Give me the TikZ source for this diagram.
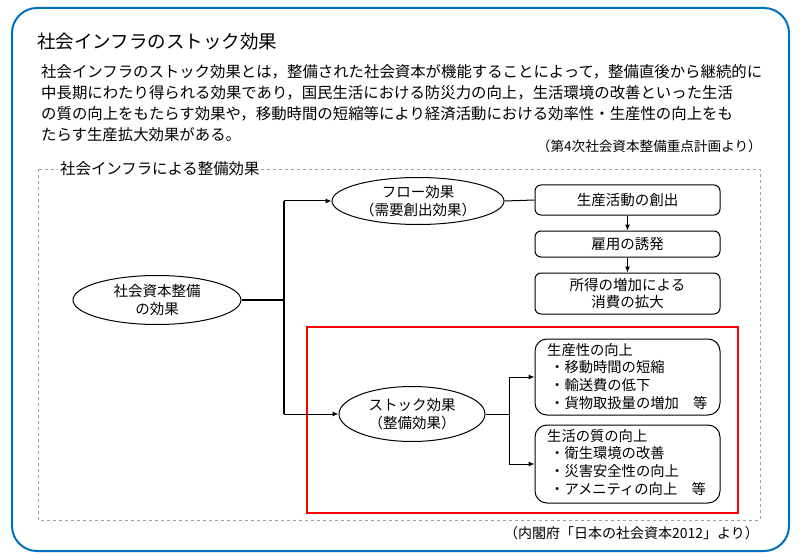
\documentclass[tikz,border=0pt]{standalone}
\usepackage{fontspec}
\setmainfont{Noto Sans CJK JP}
\usetikzlibrary{shapes.geometric,arrows.meta}
\definecolor{frameblue}{RGB}{0,112,192}
\definecolor{dashgray}{RGB}{160,160,160}
\begin{document}
\begin{tikzpicture}[x=1pt,y=-1pt,
  ell/.style={draw,ellipse,line width=1pt,inner sep=0pt,align=center,font=\fontsize{14.5}{18.5}\selectfont},
  rbox/.style={draw,rounded corners=6pt,line width=1pt,inner sep=0pt,align=center,font=\fontsize{14.5}{17}\selectfont},
  conn/.style={line width=1.3pt},
  arr/.style={line width=1pt,-{Latex[length=6pt,width=5pt]}},
  list/.style={anchor=north west,align=left,inner sep=0pt,font=\fontsize{14.3}{17.6}\selectfont}]
\useasboundingbox (0,0) rectangle (800,556);
% outer frame
\draw[frameblue,line width=2pt,rounded corners=25pt] (12,8) rectangle (789,551);
\node[anchor=west,inner sep=0pt,font=\fontsize{18.5}{22}\selectfont] (title) at (37,42) {社会インフラのストック効果};
\node[anchor=north west,align=left,inner sep=0pt,font=\fontsize{15.4}{21}\selectfont] (body) at (41,64)
 {社会インフラのストック効果とは，整備された社会資本が機能することによって，整備直後から継続的に\\
  中長期にわたり得られる効果であり，国民生活における防災力の向上，生活環境の改善といった生活\\
  の質の向上をもたらす効果や，移動時間の短縮等により経済活動における効率性・生産性の向上をも\\
  たらす生産拡大効果がある。};
\node[anchor=east,inner sep=0pt,font=\fontsize{13.6}{16}\selectfont] (cite1) at (762,146) {（第4次社会資本整備重点計画より）};
% dashed frame
\draw[dashgray,dashed,line width=0.6pt] (38,169) rectangle (760,520);
\node[anchor=west,fill=white,inner sep=2pt,font=\fontsize{15.4}{18}\selectfont] (sub) at (58,169) {社会インフラによる整備効果};
% red frame
\draw[red,line width=2.6pt] (307,327) rectangle (738,513);
% ellipses
\node[ell,minimum width=168pt,minimum height=49pt] (root) at (157,300) {社会資本整備\\の効果};
\node[ell,minimum width=172pt,minimum height=47pt] (flow) at (418,201) {フロー効果\\（需要創出効果）};
\node[ell,minimum width=146pt,minimum height=55pt] (stock) at (412,414) {ストック効果\\（整備効果）};
% flow boxes
\node[rbox,minimum width=185pt,minimum height=30pt] (f1) at (627.5,200) {生産活動の創出};
\node[rbox,minimum width=185pt,minimum height=26pt] (f2) at (627.5,244) {雇用の誘発};
\node[rbox,minimum width=185pt,minimum height=41pt] (f3) at (627.5,293.5) {所得の増加による\\消費の拡大};
% stock boxes
\node[draw,rounded corners=12pt,line width=1pt,minimum width=185pt,minimum height=76pt,inner sep=0pt] (s1) at (627.5,377) {};
\node[draw,rounded corners=12pt,line width=1pt,minimum width=185pt,minimum height=78pt,inner sep=0pt] (s2) at (627.5,464) {};
\node[list] (s1t) at (547,343) {生産性の向上\\\hspace{3pt}・移動時間の短縮\\\hspace{3pt}・輸送費の低下\\\hspace{3pt}・貨物取扱量の増加　等};
\node[list] (s2t) at (547,429) {生活の質の向上\\\hspace{3pt}・衛生環境の改善\\\hspace{3pt}・災害安全性の向上\\\hspace{3pt}・アメニティの向上　等};
% connectors
\coordinate (tr) at (284,300);
\coordinate (ttop) at (284,201);
\coordinate (tbot) at (284,414);
\draw[conn] (root.east) -- (tr);
\draw[conn] (ttop) -- (tbot);
\draw[arr] (ttop) -- (flow.west);
\draw[arr] (tbot) -- (stock.west);
\draw[line width=1pt] (flow.east) -- (f1.west);
\draw[arr] (f1.south) -- (f2.north);
\draw[arr] (f2.south) -- (f3.north);
\coordinate (br) at (509,414);
\draw[line width=1pt] (stock.east) -- (br);
\draw[line width=1pt] (509,377) -- (509,464);
\draw[arr] (509,377) -- (s1.west);
\draw[arr] (509,464) -- (s2.west);
\node[anchor=east,inner sep=0pt,font=\fontsize{14}{16}\selectfont] (cite2) at (759,533) {（内閣府「日本の社会資本2012」より）};
\end{tikzpicture}
\end{document}
